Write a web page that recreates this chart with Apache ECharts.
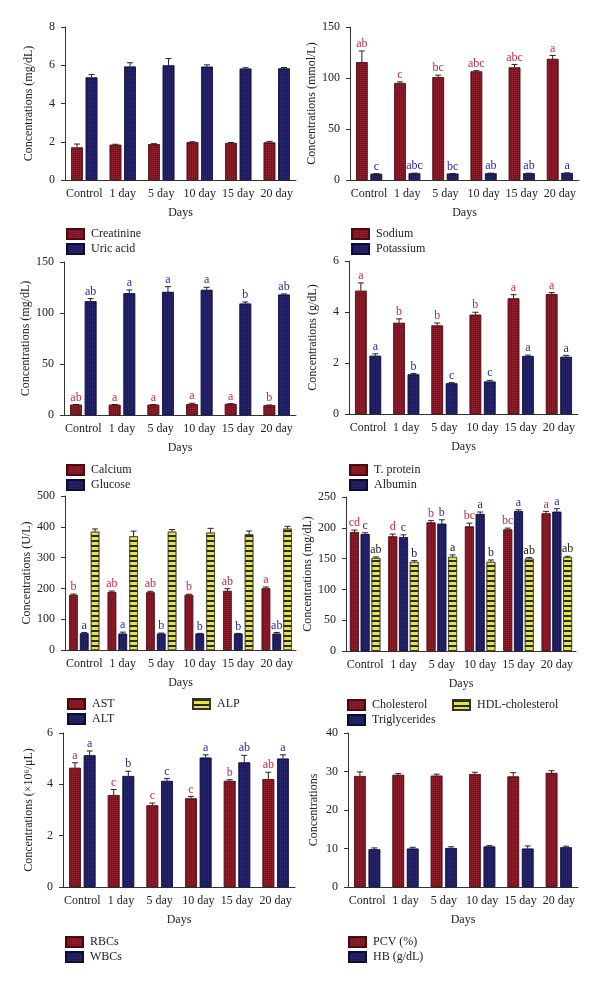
<!DOCTYPE html>
<html>
<head>
<meta charset="utf-8">
<script src="https://cdn.jsdelivr.net/npm/echarts@6/dist/echarts.min.js"></script>
<style>
  html, body { margin: 0; padding: 0; background: #fff; }
  #chart { width: 600px; height: 982px; }
</style>
</head>
<body>
<div id="chart"></div>
<script>
  const days = ['Control', '1 day', '5 day', '10 day', '15 day', '20 day']

  // creatinine / uric acid (mg/dL)
  const creatinine = [1.70, 1.84, 1.87, 1.97, 1.93, 1.96]
  const creatinineErr = [0.18, 0.03, 0.03, 0.03, 0.03, 0.06]
  const uricAcid = [5.36, 5.93, 5.99, 5.92, 5.82, 5.83]
  const uricAcidErr = [0.15, 0.2, 0.36, 0.1, 0.05, 0.05]

  // sodium / potassium (mmol/L)
  const sodium = [115.5, 95, 100.8, 106.4, 110.3, 118.6]
  const sodiumErr = [11, 1.2, 2, 0.8, 3, 3.5]
  const sodiumSig = ['ab', 'c', 'bc', 'abc', 'abc', 'a']
  const potassium = [6.0, 6.5, 6.2, 6.5, 6.5, 6.8]
  const potassiumErr = [0.2, 0.2, 0.2, 0.2, 0.2, 0.2]
  const potassiumSig = ['c', 'abc', 'bc', 'ab', 'ab', 'a']

  // calcium / glucose (mg/dL)
  const calcium = [10, 10, 10, 10.5, 10.8, 9.5]
  const calciumErr = [0.3, 0.3, 0.3, 1, 0.3, 0.3]
  const calciumSig = ['ab', 'a', 'a', 'a', 'a', 'b']
  const glucose = [111.5, 119.3, 120.6, 122.6, 109.2, 118]
  const glucoseErr = [2.6, 3.3, 5.2, 2.6, 1.6, 0.7]
  const glucoseSig = ['ab', 'a', 'a', 'a', 'b', 'ab']

  // total protein / albumin (g/dL)
  const tProtein = [4.83, 3.57, 3.47, 3.89, 4.53, 4.70]
  const tProteinErr = [0.31, 0.16, 0.1, 0.1, 0.15, 0.06]
  const tProteinSig = ['a', 'b', 'b', 'b', 'a', 'a']
  const albumin = [2.28, 1.55, 1.2, 1.27, 2.27, 2.24]
  const albuminErr = [0.08, 0.04, 0.03, 0.05, 0.04, 0.06]
  const albuminSig = ['a', 'b', 'c', 'c', 'a', 'a']

  // enzymes (U/L)
  const ast = [178.6, 188, 187, 178.6, 191.6, 200]
  const astErr = [3, 3.5, 3.5, 2.5, 7.5, 4.5]
  const astSig = ['b', 'ab', 'ab', 'b', 'ab', 'a']
  const alt = [54, 53, 53, 53, 53, 53]
  const altErr = [3, 5, 2, 1, 1, 4]
  const altSig = ['a', 'a', 'b', 'b', 'b', 'ab']
  const alp = [384, 369, 384, 381, 375.5, 394]
  const alpErr = [9, 17, 7, 14, 11, 7.5]

  // lipids (mg/dL)
  const cholesterol = [193, 186, 208.7, 202, 197.3, 223.4]
  const cholesterolErr = [3.3, 3.8, 3.3, 5.5, 2.2, 3.3]
  const cholesterolSig = ['cd', 'd', 'b', 'bc', 'bc', 'a']
  const triglycerides = [189.7, 184.8, 206.5, 222.3, 227, 226]
  const triglyceridesErr = [2.2, 3.8, 6.5, 3.3, 2.2, 5]
  const triglyceridesSig = ['c', 'c', 'b', 'a', 'a', 'a']
  const hdl = [151, 144.6, 152.7, 144.6, 150, 152.2]
  const hdlErr = [1.6, 2.1, 3.3, 3.2, 1.6, 1.6]
  const hdlSig = ['ab', 'b', 'a', 'b', 'ab', 'ab']

  // blood cells (x10^6/uL)
  const rbc = [4.64, 3.58, 3.18, 3.45, 4.13, 4.2]
  const rbcErr = [0.2, 0.22, 0.09, 0.08, 0.05, 0.27]
  const rbcSig = ['a', 'c', 'c', 'c', 'b', 'ab']
  const wbc = [5.13, 4.32, 4.13, 5.04, 4.85, 5.0]
  const wbcErr = [0.17, 0.19, 0.1, 0.11, 0.28, 0.15]
  const wbcSig = ['a', 'b', 'c', 'a', 'ab', 'a']

  // PCV / HB
  const pcv = [28.8, 29.1, 28.9, 29.3, 28.7, 29.6]
  const pcvErr = [1.1, 0.35, 0.4, 0.5, 1, 0.6]
  const hb = [9.8, 9.96, 10.1, 10.5, 9.96, 10.3]
  const hbErr = [0.35, 0.35, 0.35, 0.25, 0.7, 0.3]

  const FONT = '"Liberation Serif", "DejaVu Serif", serif'
  const RED = '#7a1420'
  const BLUE = '#1b1b5e'
  const YELLOW = '#e4e34e'
  const RED_TXT = '#c42a48'
  const BLUE_TXT = '#2a2a9e'

  const styles = {
    red: {color: RED, borderColor: '#4a0a10', borderWidth: 0.6,
      decal: {symbol: 'rect', symbolSize: 1, dashArrayX: [1, 1], dashArrayY: [1, 1], color: 'rgba(200,60,75,0.45)'}},
    blue: {color: BLUE, borderColor: '#0c0c35', borderWidth: 0.6,
      decal: {symbol: 'rect', symbolSize: 1, dashArrayX: [1, 1], dashArrayY: [1, 1], color: 'rgba(70,70,150,0.45)'}},
    yellow: {color: YELLOW, borderColor: '#333', borderWidth: 0.6,
      decal: {symbol: 'rect', symbolSize: 1, dashArrayX: [1, 0], dashArrayY: [1.5, 2.5], color: '#2a2a1a'}}
  }

  const panels = [
    {grid: [65, 27, 231, 153], max: 8, interval: 2, name: 'Concentrations (mg/dL)', gap: 30, bw: 0.3, bg: 0.26,
      legend: [[66, 228, [0, 1]]],
      items: [['Creatinine', creatinine, creatinineErr, null, 'red', RED_TXT], ['Uric acid', uricAcid, uricAcidErr, null, 'blue', BLUE_TXT]]},
    {grid: [350, 27, 229, 153], max: 150, interval: 50, name: 'Concentrations (mmol/L)', gap: 30, bw: 0.3, bg: 0.26,
      legend: [[351, 228, [0, 1]]],
      items: [['Sodium', sodium, sodiumErr, sodiumSig, 'red', RED_TXT], ['Potassium', potassium, potassiumErr, potassiumSig, 'blue', BLUE_TXT]]},
    {grid: [64, 262, 232, 153], max: 150, interval: 50, name: 'Concentrations (mg/dL)', gap: 30, bw: 0.3, bg: 0.26,
      legend: [[66, 464, [0, 1]]],
      items: [['Calcium', calcium, calciumErr, calciumSig, 'red', RED_TXT], ['Glucose', glucose, glucoseErr, glucoseSig, 'blue', BLUE_TXT]]},
    {grid: [349, 261, 229, 153], max: 6, interval: 2, name: 'Concentrations (g/dL)', gap: 30, bw: 0.3, bg: 0.26,
      legend: [[349, 464, [0, 1]]],
      items: [['T. protein', tProtein, tProteinErr, tProteinSig, 'red', RED_TXT], ['Albumin', albumin, albuminErr, albuminSig, 'blue', BLUE_TXT]]},
    {grid: [65, 496, 231, 154], max: 500, interval: 100, name: 'Concentrations (U/L)', gap: 30, bw: 0.22, bg: 0.28,
      legend: [[67, 698, [0, 1]], [192, 698, [2]]],
      items: [['AST', ast, astErr, astSig, 'red', RED_TXT], ['ALT', alt, altErr, altSig, 'blue', BLUE_TXT], ['ALP', alp, alpErr, null, 'yellow', '#222']]},
    {grid: [346, 497, 230, 154], max: 250, interval: 50, name: 'Concentrations (mg/dL)', gap: 31, bw: 0.23, bg: 0.22,
      legend: [[347, 699, [0, 1]], [452, 699, [2]]],
      items: [['Cholesterol', cholesterol, cholesterolErr, cholesterolSig, 'red', RED_TXT], ['Triglycerides', triglycerides, triglyceridesErr, triglyceridesSig, 'blue', BLUE_TXT], ['HDL-cholesterol', hdl, hdlErr, hdlSig, 'yellow', '#222']]},
    {grid: [63, 733, 232, 154], max: 6, interval: 2, name: 'Concentrations (×10⁶/μL)', gap: 28, bw: 0.3, bg: 0.26,
      legend: [[65, 936, [0, 1]]],
      items: [['RBCs', rbc, rbcErr, rbcSig, 'red', RED_TXT], ['WBCs', wbc, wbcErr, wbcSig, 'blue', BLUE_TXT]]},
    {grid: [348, 733, 230, 154], max: 40, interval: 10, name: 'Concentrations', gap: 28, bw: 0.3, bg: 0.26,
      legend: [[348, 936, [0, 1]]],
      items: [['PCV (%)', pcv, pcvErr, null, 'red', RED_TXT], ['HB (g/dL)', hb, hbErr, null, 'blue', BLUE_TXT]]}
  ]

  function errorSeries (p, k, n, bw, bg, vals, errs, sig, txtColor) {
    return {
      type: 'custom',
      xAxisIndex: p,
      yAxisIndex: p,
      silent: true,
      z: 5,
      data: vals.map((v, i) => [i, v, errs[i]]),
      renderItem: (params, api) => {
        const band = api.size([1, 0])[0]
        const w = band * bw
        const g = w * bg
        const total = n * w + (n - 1) * g
        const base = api.coord([api.value(0), api.value(1)])
        const x = base[0] - total / 2 + k * (w + g) + w / 2
        const top = api.coord([api.value(0), api.value(1) + api.value(2)])[1]
        const children = [
          {type: 'line', shape: {x1: x, y1: base[1], x2: x, y2: top}, style: {stroke: '#222', lineWidth: 1}},
          {type: 'line', shape: {x1: x - 3, y1: top, x2: x + 3, y2: top}, style: {stroke: '#222', lineWidth: 1}}
        ]
        if (sig) {
          children.push({
            type: 'text',
            x: x,
            y: top - 1,
            style: {text: sig[params.dataIndex], fill: txtColor, font: '12px ' + FONT, align: 'center', verticalAlign: 'bottom'}
          })
        }
        return {type: 'group', children: children}
      }
    }
  }

  let grid = []
  let xAxis = []
  let yAxis = []
  let series = []
  let legend = []

  panels.forEach((pn, p) => {
    grid.push({left: pn.grid[0], top: pn.grid[1], width: pn.grid[2], height: pn.grid[3]})
    xAxis.push({
      type: 'category',
      gridIndex: p,
      data: days,
      name: 'Days',
      nameLocation: 'middle',
      nameGap: 27,
      nameTextStyle: {fontFamily: FONT, fontSize: 12, color: '#222'},
      axisLine: {lineStyle: {color: '#333', width: 1}},
      axisTick: {alignWithLabel: true, length: 5, lineStyle: {color: '#333'}},
      axisLabel: {fontFamily: FONT, fontSize: 12, color: '#222', margin: 8, interval: 0}
    })
    yAxis.push({
      type: 'value',
      gridIndex: p,
      min: 0,
      max: pn.max,
      interval: pn.interval,
      name: pn.name,
      nameLocation: 'middle',
      nameGap: pn.gap,
      nameTextStyle: {fontFamily: FONT, fontSize: 12, color: '#222'},
      axisLine: {show: true, lineStyle: {color: '#333', width: 1}},
      axisTick: {show: true, length: 4, lineStyle: {color: '#333'}},
      axisLabel: {fontFamily: FONT, fontSize: 12, color: '#222', margin: 10},
      splitLine: {show: false}
    })
    const n = pn.items.length
    pn.items.forEach((it) => {
      series.push({
        name: it[0],
        type: 'bar',
        xAxisIndex: p,
        yAxisIndex: p,
        data: it[1],
        barWidth: (pn.bw * 100) + '%',
        barGap: (pn.bg * 100) + '%',
        itemStyle: styles[it[4]]
      })
    })
    pn.items.forEach((it, k) => {
      series.push(errorSeries(p, k, n, pn.bw, pn.bg, it[1], it[2], it[3], it[5]))
    })
    pn.legend.forEach((lg) => {
      legend.push({
        left: lg[0],
        top: lg[1],
        orient: 'vertical',
        itemWidth: 17,
        itemHeight: 10,
        itemGap: 3,
        padding: 0,
        selectedMode: false,
        icon: 'rect',
        textStyle: {fontFamily: FONT, fontSize: 12, color: '#222', padding: [0, 0, 0, 2]},
        data: lg[2].map((i) => pn.items[i][0])
      })
    })
  })

  const chart = echarts.init(document.getElementById('chart'), null, {renderer: 'canvas'})
  chart.setOption({
    animation: false,
    backgroundColor: '#fff',
    grid: grid,
    xAxis: xAxis,
    yAxis: yAxis,
    legend: legend,
    series: series
  })
</script>
</body>
</html>
